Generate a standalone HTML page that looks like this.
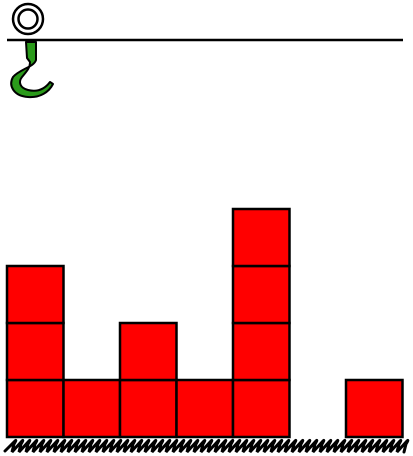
<!DOCTYPE html>
<html><head><meta charset="utf-8"><style>html,body{margin:0;padding:0;background:#fff;width:413px;height:456px;overflow:hidden}</style></head>
<body>
<svg id="c" width="413" height="456" viewBox="0 0 413 456" xmlns="http://www.w3.org/2000/svg">
<line x1="7" y1="40" x2="403" y2="40" stroke="#000" stroke-width="2.5"/>
<circle cx="28" cy="19" r="15" fill="#fff" stroke="#000" stroke-width="2.5"/>
<circle cx="28" cy="19" r="9.5" fill="#fff" stroke="#000" stroke-width="2.5"/>
<path d="M26 42 L36 42 L36 60 C34 67 20 69 13 77 C8 86 14 96 28 97 C40 98 49 92 53 84 L50 82 C44 90 36 92 28 90 C20 88 18 82 22 77 C27 71 30 68 30 62 L27 58 Z" fill="#2a9a1a" stroke="#000" stroke-width="2" stroke-linejoin="round"/>
<g id="blocks"></g>
<path id="ground" fill="none" stroke="#000" stroke-width="3" stroke-linecap="round"/>
</svg>
<script>
const categories = ["c1","c2","c3","c4","c5","c6","c7"];
const values = [3,1,2,1,4,0,1];
const x0 = 7, colW = 56.5, baseY = 437, blockH = 57;
const xPos = i => x0 + i * colW;
const yPos = k => baseY - (k + 1) * blockH;
const ns = "http://www.w3.org/2000/svg";
const g = document.getElementById('blocks');
values.forEach((v, i) => {
  for (let k = 0; k < v; k++) {
    const r = document.createElementNS(ns, 'rect');
    r.setAttribute('x', xPos(i)); r.setAttribute('y', yPos(k));
    r.setAttribute('width', colW); r.setAttribute('height', blockH);
    r.setAttribute('fill', '#ff0000'); r.setAttribute('stroke', '#000'); r.setAttribute('stroke-width', '2.5');
    
    
    g.appendChild(r);
  }
});
let d = 'M5 451';
for (let x = 5; x < 402; x += 7) {
  d += ' L' + (x + 10) + ' 441 Q' + (x + 12) + ' 439 ' + (x + 9) + ' 444 L' + (x + 7) + ' 452';
}
document.getElementById('ground').setAttribute('d', d);
</script>
</body></html>
